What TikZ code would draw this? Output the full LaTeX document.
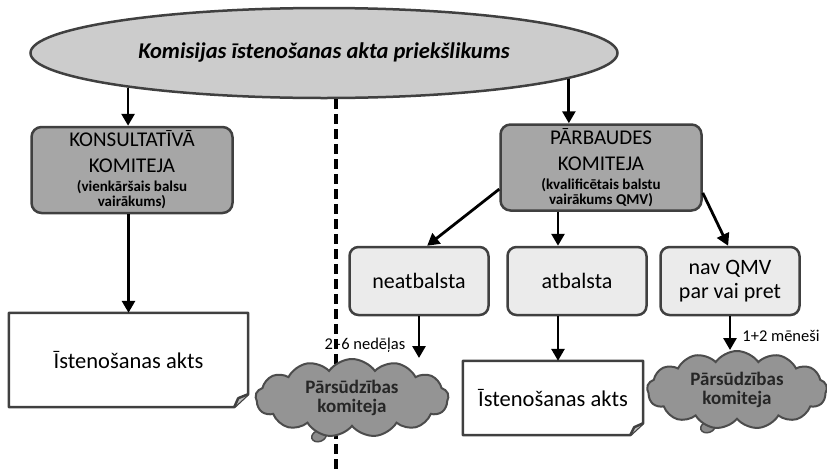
\documentclass[tikz,border=0pt]{standalone}
\usepackage{fontspec}
\setmainfont{Carlito}
\usetikzlibrary{shapes.geometric,shapes.symbols,arrows.meta}
\newcommand{\mazs}{\bfseries\fontsize{15}{15}\selectfont}

\begin{document}
\begin{tikzpicture}[x=1pt,y=-1pt]
    \tikzstyle{oval} = [shape=ellipse, draw=black!75, fill=black!20, line width=2.5pt, minimum width=587pt, minimum height=90pt, inner sep=0pt, font=\fontsize{22.5}{27}\selectfont\bfseries\itshape]
    \tikzstyle{komit} = [shape=rectangle, rounded corners=10pt, draw=black!75, fill=black!35, line width=2.5pt, minimum width=201pt, minimum height=86pt, inner sep=2pt, align=center, font=\fontsize{21}{26}\selectfont]
    \tikzstyle{balss} = [shape=rectangle, rounded corners=9pt, draw=black!75, fill=black!8, line width=2.5pt, minimum width=139pt, minimum height=68pt, align=center, font=\fontsize{22}{24}\selectfont]
    \tikzstyle{akts} = [shape=rectangle, inner sep=0pt, font=\fontsize{22.5}{27}\selectfont]
    \tikzstyle{papir} = [draw=black!75, line width=2.5pt, line join=round]
    \tikzstyle{sudz} = [shape=cloud, cloud puffs=13, cloud puff arc=110, cloud ignores aspect, draw=black!70, fill=black!42, line width=2pt, minimum height=78pt, inner sep=0pt, align=center, text=black!85, font=\fontsize{19}{19}\selectfont\bfseries]
    \tikzstyle{burb} = [shape=ellipse, draw=black!70, fill=black!45, line width=1.5pt, minimum width=15pt, minimum height=11pt, inner sep=0pt, rotate=20]
    \tikzstyle{laiks} = [inner sep=1pt, font=\fontsize{16.5}{18}\selectfont]
    \tikzstyle{robeza} = [line width=4pt, dash pattern=on 10pt off 5pt]
    \tikzstyle{arr} = [-{Triangle[length=12pt,width=13pt]}, line width=2.8pt]

    \useasboundingbox (0,0) rectangle (827,469);

    \node (prop) [oval] at (324,53) {Komisijas īstenošanas akta priekšlikums};
    \node (k1) [komit] at (132,170) {KONSULTATĪVĀ\\KOMITEJA\\[-7pt]{\mazs (vienkāršais balsu}\\[-11pt]{\mazs vairākums)}};
    \node (k2) [komit] at (601,167.5) {PĀRBAUDES\\KOMITEJA\\[-7pt]{\mazs (kvalificētais balstu}\\[-11pt]{\mazs vairākums QMV)}};
    \node (r1) [balss] at (419,281) {neatbalsta};
    \node (r2) [balss] at (577,281) {atbalsta};
    \node (r3) [balss] at (730,281) {nav QMV\\par vai pret};
    \node (d1) [akts, minimum width=239pt, minimum height=94pt] at (128.5,360) {Īstenošanas akts};
    \node (d2) [akts, minimum width=180pt, minimum height=74pt] at (553,398) {Īstenošanas akts};

    % 文件的折角
    \draw [papir] (d1.north west) -- (d1.north east) -- ([yshift=13pt]d1.south east) -- ([xshift=-14pt]d1.south east) -- (d1.south west) -- cycle;
    \draw [papir, fill=black!25] ([xshift=-14pt]d1.south east) -- ([xshift=-10pt,yshift=9pt]d1.south east) -- ([yshift=13pt]d1.south east);
    \draw [papir] (d2.north west) -- (d2.north east) -- ([yshift=12pt]d2.south east) -- ([xshift=-13pt]d2.south east) -- (d2.south west) -- cycle;
    \draw [papir, fill=black!25] ([xshift=-13pt]d2.south east) -- ([xshift=-9pt,yshift=8pt]d2.south east) -- ([yshift=12pt]d2.south east);

    \node (l1) [laiks] at (365,345) {2–6 nedēļas};
    \node (l2) [laiks] at (781,336) {1+2 mēneši};

    % 分界线
    \coordinate (bot) at (335,469);
    \draw [robeza] (prop.284) -- (prop.284 |- bot);

    \node (b1) [burb] at (319,436) {};
    \node (b2) [burb] at (708,427) {};
    \node (c1) [sudz, minimum width=193pt] at (352,398) {Pārsūdzības\\komiteja};
    \node (c2) [sudz, minimum width=180pt] at (737,390) {Pārsūdzības\\komiteja};

    % 箭头
    \draw [arr] (prop.190) -- (prop.190 |- k1.north);
    \draw [arr] (prop.354) -- (prop.354 |- k2.north);
    \draw [arr] (k1.south -| d1.north) -- (d1.north);
    \draw [arr] (k2.192) -- (r1.77);
    \draw [arr] ([xshift=-43pt]k2.south) -- ([xshift=-19pt]r2.north);
    \draw [arr] (k2.346) -- (r3.93);
    \draw [arr] (r1.south) -- (r1.south |- c1.north);
    \draw [arr] ([xshift=-19pt]r2.south) -- ([xshift=-19pt]r2.south |- d2.north);
    \draw [arr] (r3.south) -- (r3.south |- c2.north);
\end{tikzpicture}
\end{document}
